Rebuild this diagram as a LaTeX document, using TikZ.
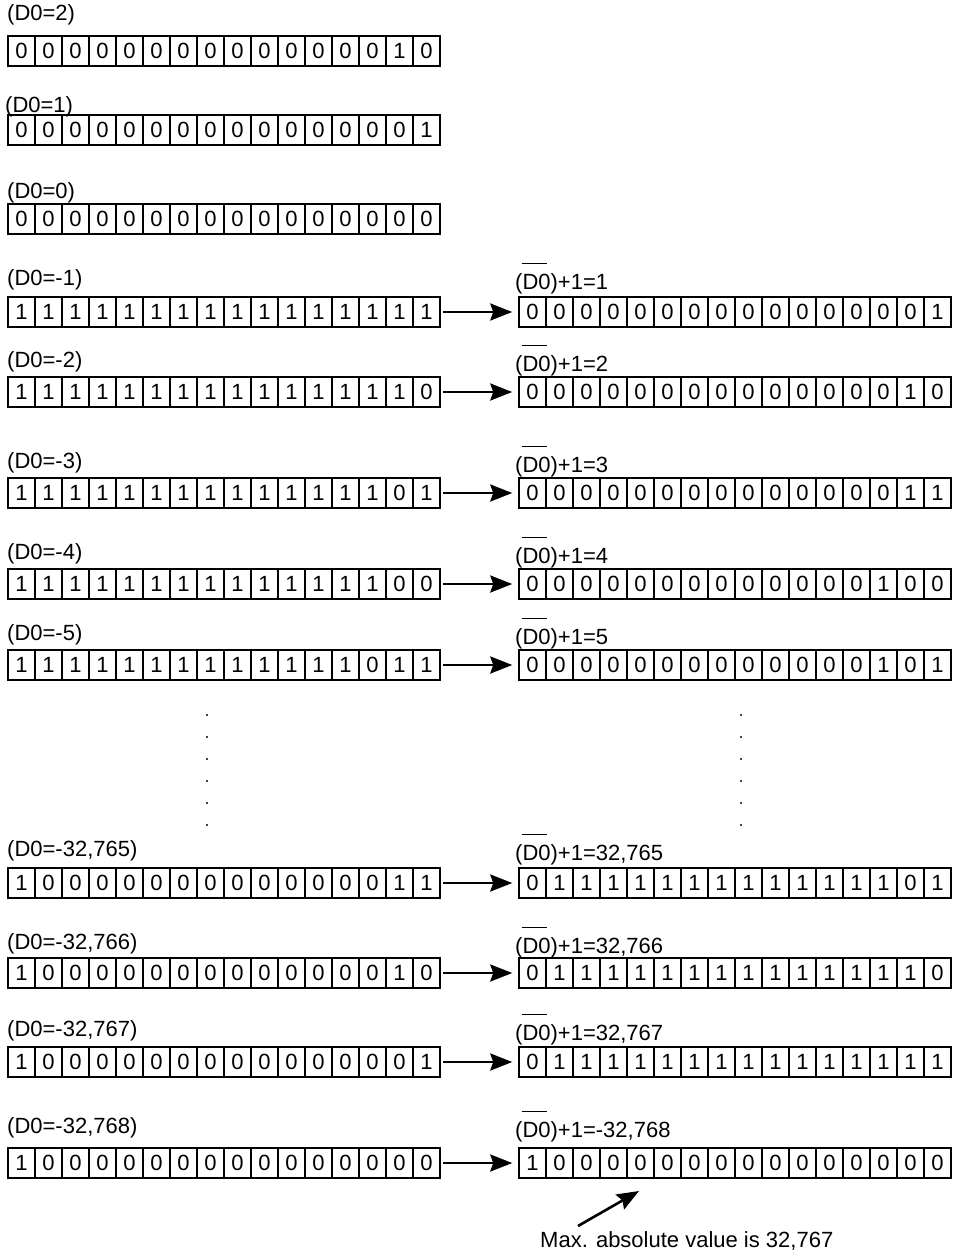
\documentclass[tikz,border=0pt]{standalone}
\usepackage{fontspec}
\setmainfont{Liberation Sans}
\usetikzlibrary{arrows.meta, positioning}

\tikzset{
  bit/.style={draw, line width=1.5pt, minimum width=27pt, minimum height=30pt, inner sep=0pt,
    font=\fontsize{22}{25}\selectfont},
  lbl/.style={anchor=base west, inner sep=0pt, font=\fontsize{22}{25}\selectfont},
  arr/.style={-{Stealth[length=22pt, width=17pt, inset=3pt]}, line width=2.6pt},
  conv/.style={arr, shorten <=2.5pt, shorten >=6pt},
}
% complemented D0 with the bar over it
\newcommand{\notdz}{(\rlap{\kern-1pt\raisebox{25pt}{\rule{25pt}{0.9pt}}}D0)}
% one 16-bit register: name, left edge, centre y, bits
\newcommand{\bitrow}[4]{%
  \foreach \b [count=\i] in {#4}
    \node[bit] (#1-\i) at ({#2+(\i-0.5)*27}, #3) {\b};
}

\begin{document}
\begin{tikzpicture}[x=1pt, y=-1pt]
  \useasboundingbox (0,0) rectangle (953,1252);

  % positive values and zero
  \node[lbl] (l1) at (7,21) {(D0=2)};
  \bitrow{a1}{8}{51}{0,0,0,0,0,0,0,0,0,0,0,0,0,0,1,0}
  \node[lbl] (l2) at (5,113) {(D0=1)};
  \bitrow{a2}{8}{130}{0,0,0,0,0,0,0,0,0,0,0,0,0,0,0,1}
  \node[lbl] (l3) at (7,198) {(D0=0)};
  \bitrow{a3}{8}{219}{0,0,0,0,0,0,0,0,0,0,0,0,0,0,0,0}

  % negative values and their complement + 1
  \node[lbl] (l4) at (7,285) {(D0=-1)};
  \bitrow{a4}{8}{312}{1,1,1,1,1,1,1,1,1,1,1,1,1,1,1,1}
  \node[lbl] (r4) at (515,289) {\notdz+1=1};
  \bitrow{b4}{519}{312}{0,0,0,0,0,0,0,0,0,0,0,0,0,0,0,1}

  \node[lbl] (l5) at (7,367) {(D0=-2)};
  \bitrow{a5}{8}{392}{1,1,1,1,1,1,1,1,1,1,1,1,1,1,1,0}
  \node[lbl] (r5) at (515,371) {\notdz+1=2};
  \bitrow{b5}{519}{392}{0,0,0,0,0,0,0,0,0,0,0,0,0,0,1,0}

  \node[lbl] (l6) at (7,468) {(D0=-3)};
  \bitrow{a6}{8}{493}{1,1,1,1,1,1,1,1,1,1,1,1,1,1,0,1}
  \node[lbl] (r6) at (515,472) {\notdz+1=3};
  \bitrow{b6}{519}{493}{0,0,0,0,0,0,0,0,0,0,0,0,0,0,1,1}

  \node[lbl] (l7) at (7,559) {(D0=-4)};
  \bitrow{a7}{8}{584}{1,1,1,1,1,1,1,1,1,1,1,1,1,1,0,0}
  \node[lbl] (r7) at (515,563) {\notdz+1=4};
  \bitrow{b7}{519}{584}{0,0,0,0,0,0,0,0,0,0,0,0,0,1,0,0}

  \node[lbl] (l8) at (7,640) {(D0=-5)};
  \bitrow{a8}{8}{665}{1,1,1,1,1,1,1,1,1,1,1,1,1,0,1,1}
  \node[lbl] (r8) at (515,644) {\notdz+1=5};
  \bitrow{b8}{519}{665}{0,0,0,0,0,0,0,0,0,0,0,0,0,1,0,1}

  % dots
  \foreach \k in {0,...,5} {
    \fill (207,{715+22*\k}) circle (1.1pt);
    \fill (741,{715+22*\k}) circle (1.1pt);
  }

  \node[lbl] (l9) at (7,856) {(D0=-32,765)};
  \bitrow{a9}{8}{883}{1,0,0,0,0,0,0,0,0,0,0,0,0,0,1,1}
  \node[lbl] (r9) at (515,860) {\notdz+1=32,765};
  \bitrow{b9}{519}{883}{0,1,1,1,1,1,1,1,1,1,1,1,1,1,0,1}

  \node[lbl] (l10) at (7,949) {(D0=-32,766)};
  \bitrow{a10}{8}{973}{1,0,0,0,0,0,0,0,0,0,0,0,0,0,1,0}
  \node[lbl] (r10) at (515,953) {\notdz+1=32,766};
  \bitrow{b10}{519}{973}{0,1,1,1,1,1,1,1,1,1,1,1,1,1,1,0}

  \node[lbl] (l11) at (7,1036) {(D0=-32,767)};
  \bitrow{a11}{8}{1062}{1,0,0,0,0,0,0,0,0,0,0,0,0,0,0,1}
  \node[lbl] (r11) at (515,1040) {\notdz+1=32,767};
  \bitrow{b11}{519}{1062}{0,1,1,1,1,1,1,1,1,1,1,1,1,1,1,1}

  \node[lbl] (l12) at (7,1133) {(D0=-32,768)};
  \bitrow{a12}{8}{1163}{1,0,0,0,0,0,0,0,0,0,0,0,0,0,0,0}
  \node[lbl] (r12) at (515,1137) {\notdz+1=-32,768};
  \bitrow{b12}{519}{1163}{1,0,0,0,0,0,0,0,0,0,0,0,0,0,0,0}

  \foreach \r in {4,...,12}
    \draw[conv] (a\r-16) -- (b\r-1);

  % note under the last register
  \node[lbl] (maxnote) at (540,1247) {Max. absolute value is 32,767};
  \coordinate (maxtail) at (578,1226);
  \coordinate (maxtip) at (639,1191);
  \draw[arr] (maxtail) -- (maxtip);
\end{tikzpicture}
\end{document}
